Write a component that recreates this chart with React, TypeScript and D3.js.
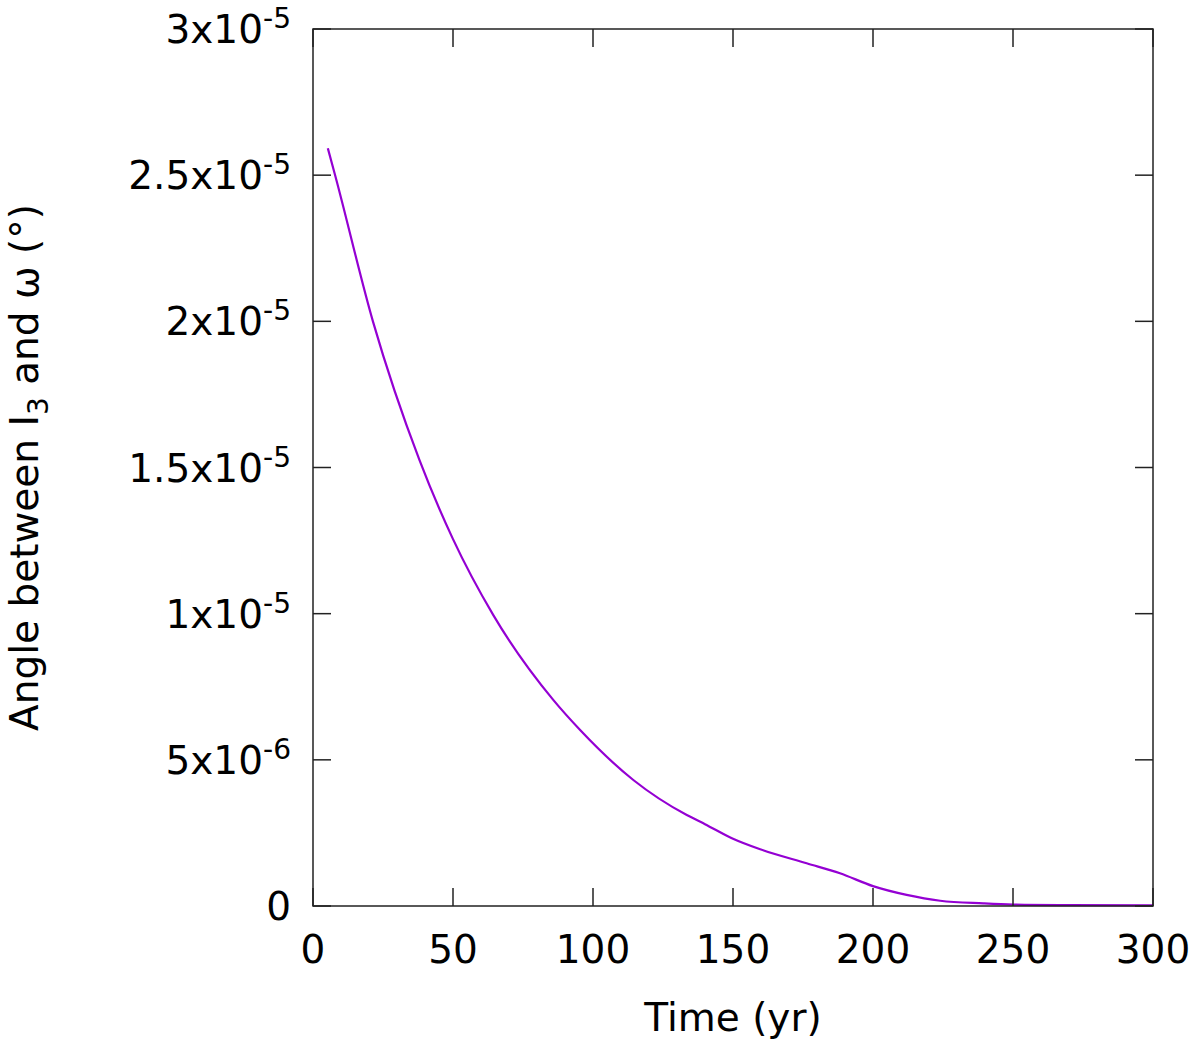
import React from "react";
import * as d3 from "d3";

// values (time in yr, angle in units of 1e-6 degrees)
const timeYr = [5.3, 7.9, 21.4, 38, 50, 64.4, 85.8, 95.4, 114.4, 133.5, 140, 150, 160, 176.3, 188.2, 200, 212, 224, 239.4, 250, 270, 300];
const angleE6 = [25.92, 25.0, 20.0, 15.26, 12.55, 9.95, 7.05, 6.02, 4.31, 3.11, 2.8, 2.3, 1.93, 1.46, 1.12, 0.68, 0.38, 0.18, 0.09, 0.05, 0.03, 0.02];

const xTicks = [0, 50, 100, 150, 200, 250, 300];
const yTicks = [0, 5e-6, 1e-5, 1.5e-5, 2e-5, 2.5e-5, 3e-5];
const yTickLabels = [
  { base: "0", sup: "" },
  { base: "5x10", sup: "-6" },
  { base: "1x10", sup: "-5" },
  { base: "1.5x10", sup: "-5" },
  { base: "2x10", sup: "-5" },
  { base: "2.5x10", sup: "-5" },
  { base: "3x10", sup: "-5" },
];

const W = 1200;
const H = 1050;
const left = 313;
const right = 1153;
const top = 29;
const bottom = 906;
const tick = 18;
const font = "DejaVu Sans, sans-serif";
const fs = 39;

export default function App() {
  const x = d3.scaleLinear().domain([0, 300]).range([left, right]);
  const y = d3.scaleLinear().domain([0, 3e-5]).range([bottom, top]);

  const pts = timeYr.map((t, i) => [t, angleE6[i] * 1e-6] as [number, number]);
  const line = d3
    .line<[number, number]>()
    .x((d) => x(d[0]))
    .y((d) => y(d[1]))
    .curve(d3.curveMonotoneX);

  return (
    <svg
      width={W}
      height={H}
      style={{ position: "absolute", left: 0, top: 0, background: "white" }}
      fontFamily={font}
    >
      <path d={line(pts) || ""} fill="none" stroke="#9400d3" strokeWidth={2.2} />

      {/* ticks, mirrored on all four sides */}
      <g stroke="#222" strokeWidth={1.5}>
        {xTicks.map((t) => (
          <g key={"x" + t}>
            <line x1={x(t)} x2={x(t)} y1={bottom} y2={bottom - tick} />
            <line x1={x(t)} x2={x(t)} y1={top} y2={top + tick} />
          </g>
        ))}
        {yTicks.map((t) => (
          <g key={"y" + t}>
            <line x1={left} x2={left + tick} y1={y(t)} y2={y(t)} />
            <line x1={right} x2={right - tick} y1={y(t)} y2={y(t)} />
          </g>
        ))}
        <rect x={left} y={top} width={right - left} height={bottom - top} fill="none" />
      </g>

      {xTicks.map((t) => (
        <text key={"xl" + t} x={x(t)} y={bottom + 57} fontSize={fs} textAnchor="middle" fill="#000">
          {t}
        </text>
      ))}

      {yTicks.map((t, i) => (
        <text key={"yl" + t} x={291} y={y(t) + 14} fontSize={fs} textAnchor="end" fill="#000">
          {yTickLabels[i].base}
          {yTickLabels[i].sup && (
            <tspan dy={-15} fontSize={fs * 0.72}>
              {yTickLabels[i].sup}
            </tspan>
          )}
        </text>
      ))}

      <text x={(left + right) / 2} y={1031} fontSize={fs} textAnchor="middle" fill="#000">
        Time (yr)
      </text>

      <text
        transform={`translate(38,${(top + bottom) / 2}) rotate(-90)`}
        fontSize={fs}
        textAnchor="middle"
        fill="#000"
      >
        Angle between I
        <tspan dy={10} fontSize={fs * 0.72}>3</tspan>
        <tspan dy={-10}> and ω (°)</tspan>
      </text>
    </svg>
  );
}
